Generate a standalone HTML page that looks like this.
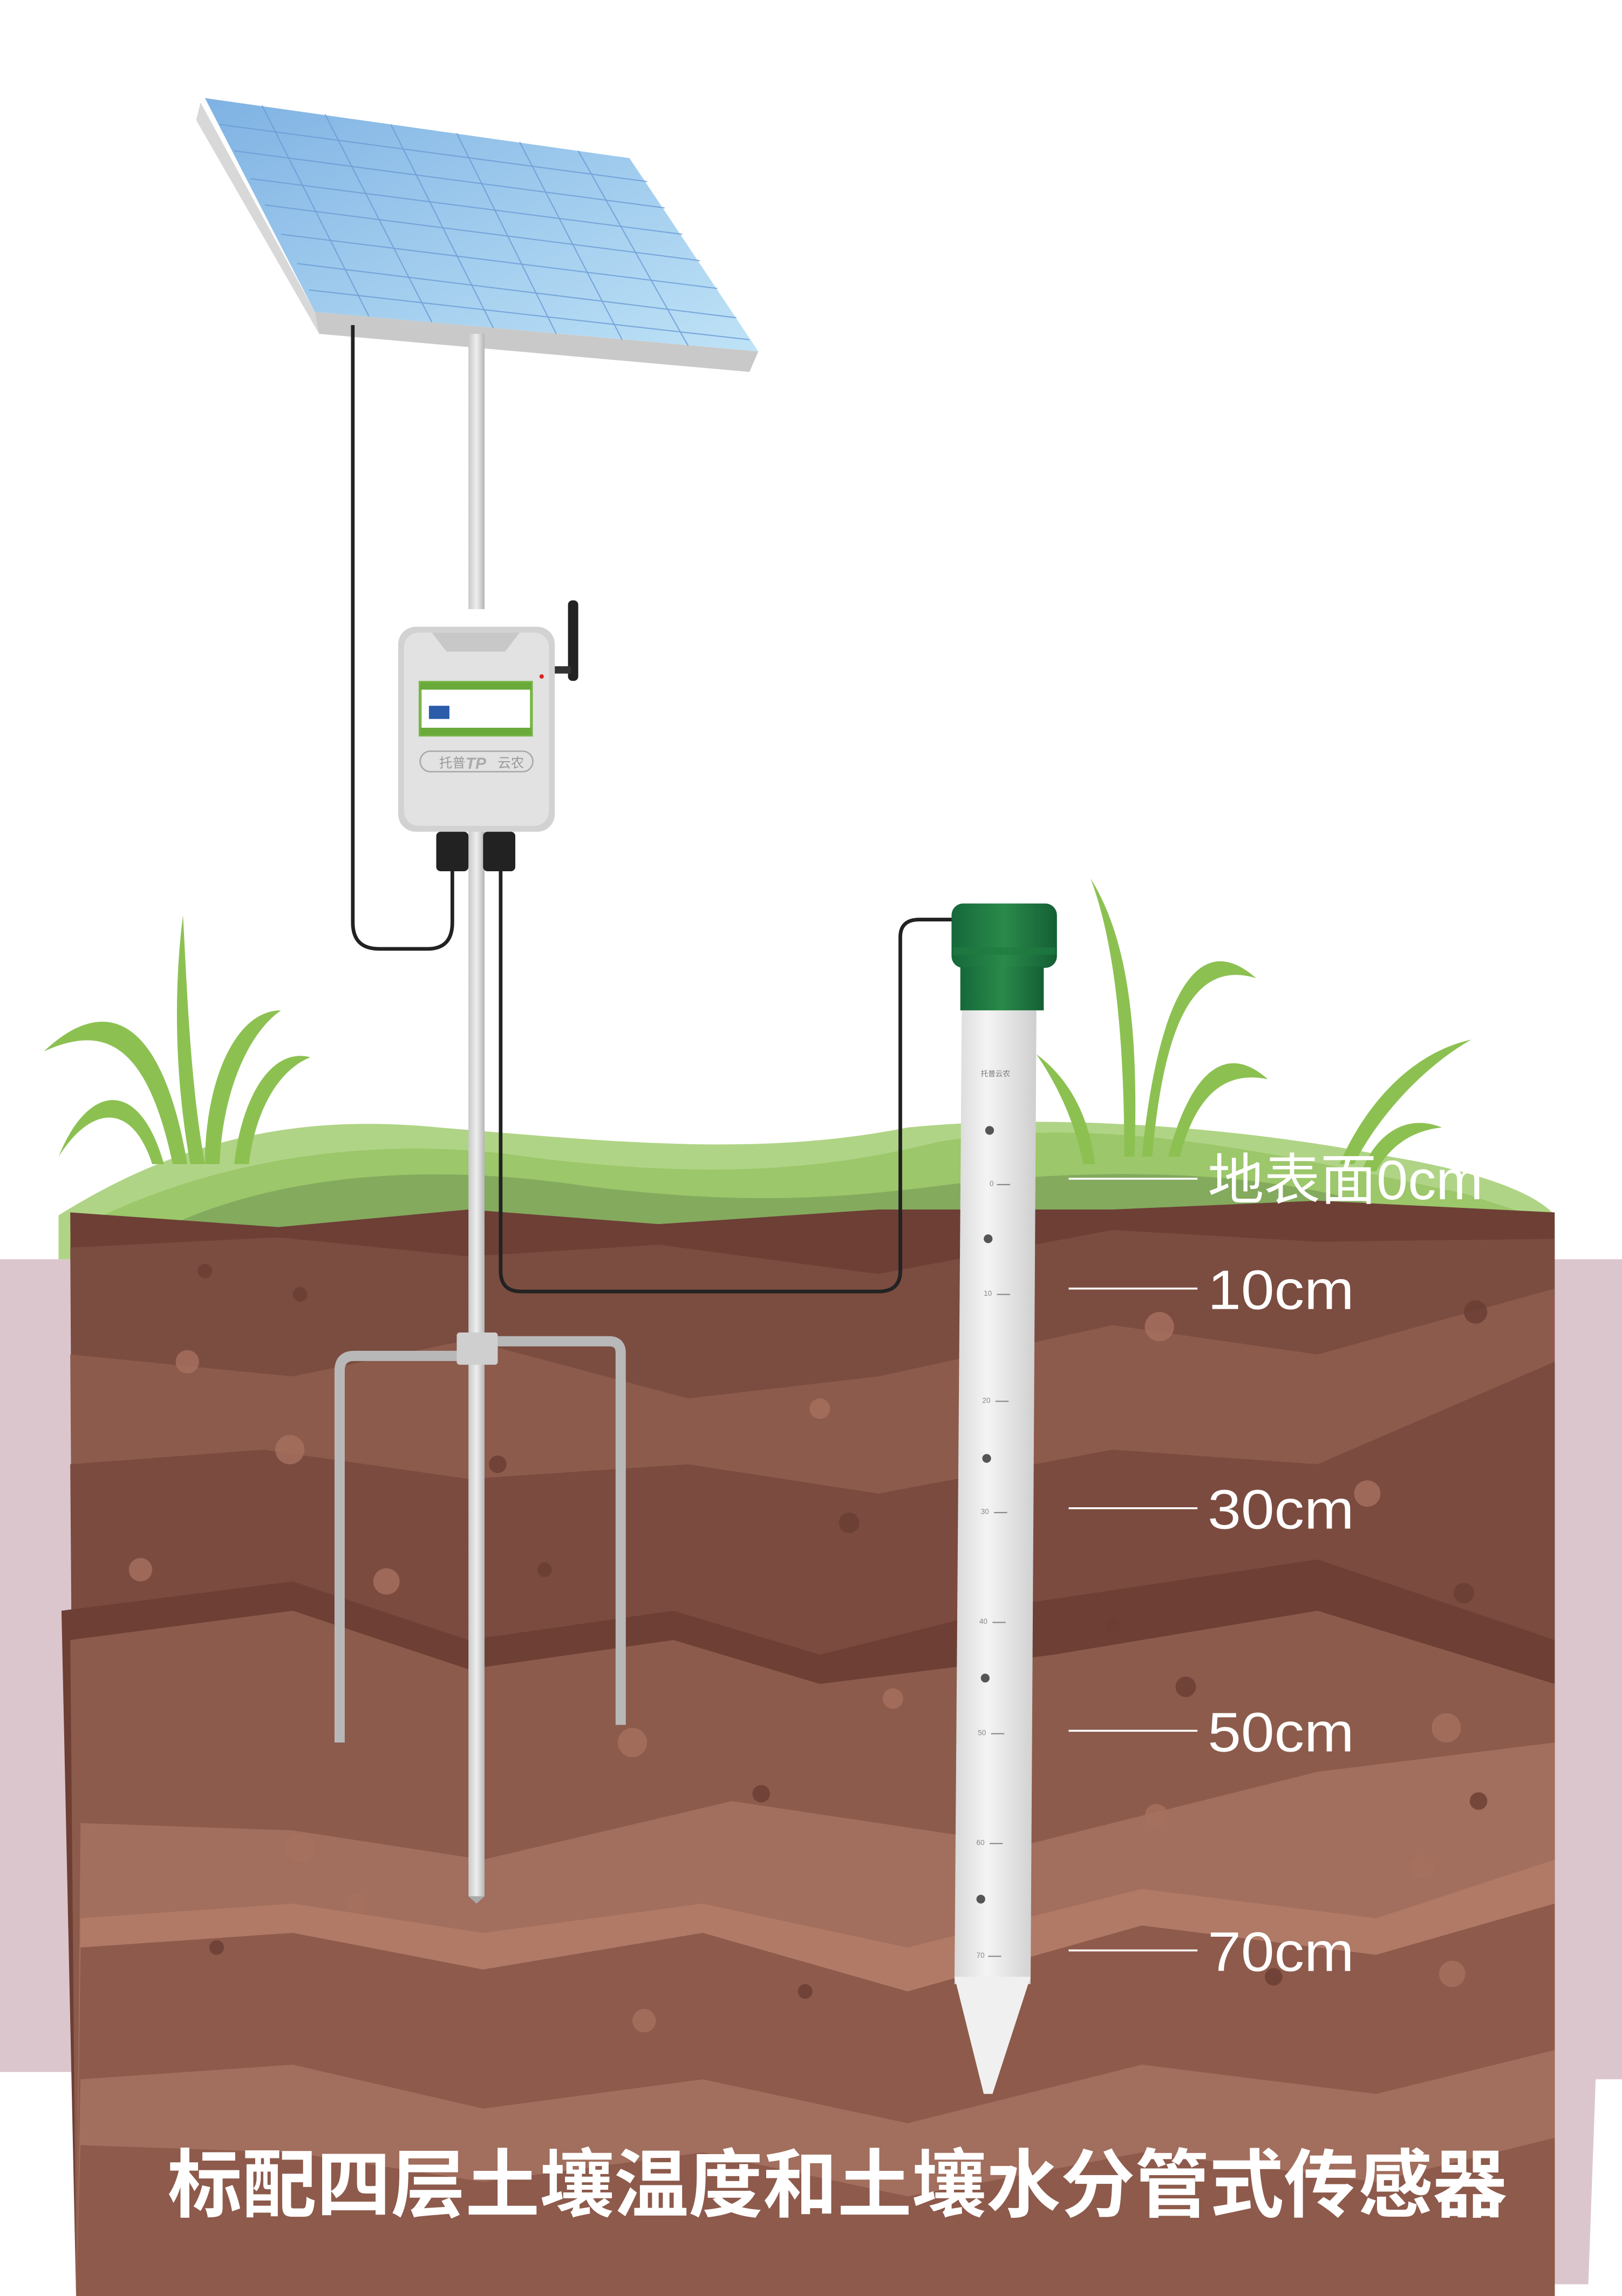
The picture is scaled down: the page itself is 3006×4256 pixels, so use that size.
<!DOCTYPE html>
<html><head><meta charset="utf-8"><style>
html,body{margin:0;padding:0;background:#fff}
svg{display:block}
</style></head><body>
<svg width="3006" height="4256" viewBox="0 0 1108 1568" preserveAspectRatio="none" xmlns="http://www.w3.org/2000/svg">
<defs>
<linearGradient id="sol" x1="0" y1="0" x2="1" y2="1"><stop offset="0" stop-color="#7fb2e3"/><stop offset="1" stop-color="#bfe3f7"/></linearGradient>
<linearGradient id="pipe" x1="0" x2="1"><stop offset="0" stop-color="#c8c8c8"/><stop offset=".5" stop-color="#eeeeee"/><stop offset="1" stop-color="#b5b5b5"/></linearGradient>
<linearGradient id="tube" x1="0" x2="1"><stop offset="0" stop-color="#d8d8d8"/><stop offset=".4" stop-color="#f4f4f4"/><stop offset="1" stop-color="#cfcfcf"/></linearGradient>
<linearGradient id="cap" x1="0" x2="1"><stop offset="0" stop-color="#15683a"/><stop offset=".5" stop-color="#2a8a4a"/><stop offset="1" stop-color="#145f35"/></linearGradient>
</defs>
<polygon points="0,860 1108,860 1108,1420 1090,1420 1085,1560 60,1560 55,1415 0,1415" fill="#dcc6cd"/>
<path d="M40,830 C120,780 200,760 300,770 C420,780 520,790 620,770 C720,760 850,770 950,790 C1010,800 1050,815 1062,830 L1062,860 L40,860 Z" fill="#b0d486"/>
<path d="M60,835 C150,790 260,775 360,790 C480,805 560,800 640,780 C760,760 880,790 1000,815 L1062,835 L1062,860 L60,860Z" fill="#9cc76a"/>
<path d="M120,835 C200,800 300,795 400,810 C500,822 560,820 640,810 C760,795 880,800 960,830 L960,860 L120,860Z" fill="#84aa5e"/>
<polygon points="48,828 190,838 320,826 450,836 600,826 760,826 900,820 1062,828 1062,1568 52,1568" fill="#6d3f35"/>
<polygon points="48,852 190,845 320,858 450,850 600,870 760,840 900,848 1062,846 1062,1568 52,1568" fill="#7b4c40"/>
<polygon points="48,925 200,940 320,915 470,955 600,940 760,905 900,925 1062,880 1062,1568 52,1568" fill="#8c5b4c"/>
<polygon points="48,1000 180,990 320,1010 470,1000 600,1020 760,990 900,1000 1062,930 1062,1568 52,1568" fill="#7b4b3f"/>
<polygon points="42,1100 200,1080 320,1120 460,1100 560,1130 700,1095 900,1065 1062,1120 1062,1568 52,1568" fill="#6d3f35"/>
<polygon points="48,1120 200,1100 320,1140 460,1120 560,1150 720,1130 900,1100 1062,1150 1062,1568 52,1568" fill="#8c5b4c"/>
<polygon points="55,1245 200,1250 330,1270 500,1230 700,1260 900,1210 1062,1190 1062,1568 52,1568" fill="#a26e5d"/>
<polygon points="55,1310 200,1300 330,1320 480,1300 620,1330 780,1290 940,1310 1062,1270 1062,1568 52,1568" fill="#b07a66"/>
<polygon points="55,1330 200,1320 330,1345 480,1320 620,1360 780,1315 940,1335 1062,1300 1062,1568 52,1568" fill="#8d5a4b"/>
<polygon points="55,1420 200,1410 330,1440 480,1420 620,1450 780,1410 940,1430 1062,1400 1062,1568 52,1568" fill="#a26e5d"/>
<polygon points="55,1465 200,1470 330,1490 480,1470 620,1500 780,1470 940,1490 1062,1460 1062,1568 52,1568" fill="#8d5a4b"/>
<g fill="#a8705f" opacity=".8">
<circle cx="128" cy="930" r="8"/><circle cx="198" cy="990" r="10"/><circle cx="264" cy="1080" r="9"/><circle cx="96" cy="1072" r="8"/><circle cx="432" cy="1190" r="10"/><circle cx="560" cy="962" r="7"/><circle cx="792" cy="906" r="10"/><circle cx="934" cy="1020" r="9"/><circle cx="988" cy="1180" r="10"/><circle cx="972" cy="1275" r="8"/><circle cx="610" cy="1160" r="7"/><circle cx="205" cy="1262" r="10"/><circle cx="440" cy="1380" r="8"/><circle cx="992" cy="1348" r="9"/><circle cx="790" cy="1240" r="8"/><circle cx="244" cy="1300" r="7"/>
</g>
<g fill="#6a3d33" opacity=".8">
<circle cx="140" cy="868" r="5"/><circle cx="205" cy="884" r="5"/><circle cx="340" cy="1000" r="6"/><circle cx="372" cy="1072" r="5"/><circle cx="580" cy="1040" r="7"/><circle cx="760" cy="1110" r="5"/><circle cx="810" cy="1152" r="7"/><circle cx="1000" cy="1088" r="7"/><circle cx="1008" cy="896" r="8"/><circle cx="870" cy="1350" r="6"/><circle cx="520" cy="1225" r="6"/><circle cx="148" cy="1330" r="5"/><circle cx="550" cy="1360" r="5"/><circle cx="1010" cy="1230" r="6"/>
</g>
<g fill="#8cc152">
<path d="M125,625 C118,680 120,740 130,795 L140,795 C130,740 128,680 125,625Z"/>
<path d="M30,718 C70,680 110,690 128,795 L118,795 C100,710 70,700 30,718Z"/>
<path d="M40,790 C60,740 95,735 112,795 L104,795 C90,752 62,755 40,790Z"/>
<path d="M192,690 C160,690 140,740 140,795 L150,795 C152,745 170,705 192,690Z"/>
<path d="M212,722 C185,715 165,750 160,795 L170,795 C175,755 192,730 212,722Z"/>
<path d="M745,600 C770,640 778,700 775,790 L768,790 C768,700 760,640 745,600Z"/>
<path d="M708,720 C735,740 745,770 748,795 L740,795 C735,770 725,745 708,720Z"/>
<path d="M858,668 C815,630 790,690 780,790 L787,790 C795,700 815,655 858,668Z"/>
<path d="M866,737 C830,705 808,750 798,790 L806,790 C815,755 832,730 866,737Z"/>
<path d="M1005,710 C960,720 930,760 915,795 L925,795 C940,765 970,730 1005,710Z"/>
<path d="M985,770 C960,760 940,775 930,800 L940,800 C950,782 965,772 985,770Z"/>
</g>
<polygon points="137,70 215,213 218,228 134,82" fill="#d8d8d8"/>
<polygon points="215,213 518,240 512,254 218,228" fill="#c9c9c9"/>
<polygon points="140,67 430,108 518,240 215,213" fill="url(#sol)"/>
<g stroke="#6b9bd6" stroke-width=".8" fill="none" opacity=".8">
<line x1="179" y1="72" x2="252" y2="216"/><line x1="222" y1="78" x2="295" y2="220"/><line x1="267" y1="85" x2="337" y2="224"/><line x1="312" y1="91" x2="380" y2="228"/><line x1="355" y1="97" x2="425" y2="232"/><line x1="395" y1="103" x2="470" y2="236"/>
<line x1="150" y1="85" x2="442" y2="124"/><line x1="160" y1="103" x2="454" y2="142"/><line x1="171" y1="122" x2="466" y2="160"/><line x1="181" y1="140" x2="478" y2="178"/><line x1="192" y1="160" x2="490" y2="197"/><line x1="203" y1="180" x2="503" y2="217"/><line x1="211" y1="198" x2="512" y2="232"/>
</g>
<rect x="320" y="228" width="11" height="188" fill="url(#pipe)"/>
<rect x="320" y="565" width="11" height="730" fill="url(#pipe)"/>
<polygon points="320,1295 331,1295 325.5,1300" fill="#aaa"/>
<path d="M241,222 L241,630 Q241,648 259,648 L292,648 Q309,648 309,630 L309,590" stroke="#222" stroke-width="2.5" fill="none"/>
<path d="M342,590 L342,868 Q342,882 356,882 L600,882 Q615,882 615,868 L615,640 Q615,628 628,628 L652,628" stroke="#222" stroke-width="2.5" fill="none"/>
<rect x="388" y="410" width="7" height="55" rx="3" fill="#222"/>
<rect x="378" y="455" width="12" height="5" fill="#333"/>
<rect x="272" y="428" width="107" height="140" rx="12" fill="#d2d2d2"/>
<rect x="276" y="432" width="99" height="132" rx="10" fill="#e2e2e2"/>
<path d="M295,432 L305,445 L345,445 L355,432Z" fill="#c8c8c8"/>
<rect x="287" y="466" width="76" height="36" fill="#fff" stroke="#7ab648" stroke-width="2"/>
<rect x="287" y="466" width="76" height="5" fill="#6aaa3a"/>
<rect x="287" y="497" width="76" height="5" fill="#6aaa3a"/>
<rect x="293" y="482" width="14" height="9" fill="#2a5caa"/>
<rect x="287" y="513" width="77" height="14" rx="7" fill="none" stroke="#aaa" stroke-width="1"/>
<text x="300" y="524" font-family="Liberation Sans,'Noto Sans CJK SC',sans-serif" font-size="9" fill="#999">托普</text>
<text x="340" y="524" font-family="Liberation Sans,'Noto Sans CJK SC',sans-serif" font-size="9" fill="#999">云农</text>
<text x="318" y="525" font-family="Liberation Sans,sans-serif" font-size="11" font-weight="bold" font-style="italic" fill="#aaa">TP</text>
<circle cx="370" cy="462" r="1.5" fill="#d22"/>
<rect x="298" y="568" width="22" height="27" rx="3" fill="#222"/>
<rect x="330" y="568" width="22" height="27" rx="3" fill="#222"/>
<path d="M232,1190 L232,936 Q232,926 242,926 L320,926" stroke="#b8b8b8" stroke-width="7" fill="none"/>
<path d="M424,1178 L424,924 Q424,916 416,916 L336,916" stroke="#b8b8b8" stroke-width="7" fill="none"/>
<rect x="312" y="910" width="28" height="22" rx="2" fill="#cfcfcf"/>
<polygon points="657,690 708,690 704,1355 688,1355 675,1430 668,1355 652,1355" fill="url(#tube)"/>
<polygon points="652,1350 704,1350 678,1430 672,1430" fill="#f0f0f0"/>
<rect x="650" y="617" width="72" height="44" rx="8" fill="url(#cap)"/>
<rect x="651" y="647" width="70" height="5" fill="#1f7a40" opacity=".7"/>
<rect x="656" y="660" width="57" height="30" fill="url(#cap)"/>
<g fill="#555"><circle cx="676" cy="772" r="3"/><circle cx="675" cy="846" r="3"/><circle cx="674" cy="996" r="3"/><circle cx="673" cy="1146" r="3"/><circle cx="670" cy="1297" r="3"/></g>
<g stroke="#888" stroke-width=".8"><line x1="681" y1="809" x2="690" y2="809"/><line x1="681" y1="884" x2="690" y2="884"/><line x1="680" y1="957" x2="689" y2="957"/><line x1="679" y1="1033" x2="688" y2="1033"/><line x1="678" y1="1108" x2="687" y2="1108"/><line x1="677" y1="1184" x2="686" y2="1184"/><line x1="676" y1="1259" x2="685" y2="1259"/><line x1="675" y1="1336" x2="684" y2="1336"/></g>
<g font-family="Liberation Sans,sans-serif" font-size="5" fill="#888"><text x="676" y="810">0</text><text x="672" y="885">10</text><text x="671" y="958">20</text><text x="670" y="1034">30</text><text x="669" y="1109">40</text><text x="668" y="1185">50</text><text x="667" y="1260">60</text><text x="667" y="1337">70</text></g>
<text x="670" y="735" font-family="Liberation Sans,'Noto Sans CJK SC',sans-serif" font-size="5" fill="#777">托普云农</text>
<g stroke="#fff" stroke-width="1.3"><line x1="730" y1="805" x2="818" y2="805"/><line x1="730" y1="880" x2="818" y2="880"/><line x1="730" y1="1030" x2="818" y2="1030"/><line x1="730" y1="1182" x2="818" y2="1182"/><line x1="730" y1="1332" x2="818" y2="1332"/></g>
<g font-family="Liberation Sans,'Noto Sans CJK SC',sans-serif" font-size="38" fill="#fff" lengthAdjust="spacingAndGlyphs">
<text x="825" y="819" textLength="188" lengthAdjust="spacingAndGlyphs">地表面0cm</text><text x="825" y="894" textLength="100" lengthAdjust="spacingAndGlyphs">10cm</text><text x="825" y="1044" textLength="100" lengthAdjust="spacingAndGlyphs">30cm</text><text x="825" y="1196" textLength="100" lengthAdjust="spacingAndGlyphs">50cm</text><text x="825" y="1346" textLength="100" lengthAdjust="spacingAndGlyphs">70cm</text>
</g>
<text x="572" y="1510" text-anchor="middle" textLength="915" lengthAdjust="spacingAndGlyphs" font-family="Liberation Sans,'Noto Sans CJK SC',sans-serif" font-size="51" font-weight="bold" fill="#fff">标配四层土壤温度和土壤水分管式传感器</text>
</svg>
</body></html>
